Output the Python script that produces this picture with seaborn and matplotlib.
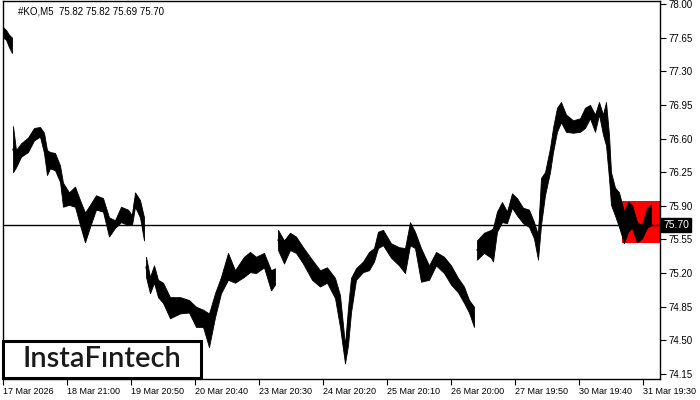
import matplotlib
matplotlib.use("Agg")
import matplotlib.pyplot as plt
import matplotlib.patches as mpatches
import numpy as np
import pandas as pd
import seaborn as sns

# 5-minute bars of #KO, sampled along the chart (bar index, high, low, session)
bars = [0, 3, 6, 9,
        10, 13, 18, 25, 31, 37, 41, 44, 47, 52, 57, 60, 66, 72, 77, 82, 87, 93,
        100, 106, 112, 118, 125, 129, 132, 137, 141,
        143, 147, 151, 155, 160, 167, 177, 186, 193, 200, 206, 212, 218, 225,
        232, 241, 247, 253, 261, 268, 272,
        275, 281, 287, 293, 300, 309, 317, 324, 332, 337, 342, 345, 348, 353,
        360, 366, 371, 375, 380, 388, 396, 402, 407, 412, 418, 426, 433, 441,
        448, 455, 461, 466, 471,
        474, 481, 488, 490, 494, 499, 504, 509, 514, 520, 526, 531, 535, 538,
        542, 547, 550, 554, 558, 563, 570, 577, 582, 587, 592, 596, 600, 603,
        606, 608, 612, 616, 621, 625, 629, 634, 639, 644, 648]
high = [77.76, 77.73, 77.68, 77.65,
        76.73, 76.48, 76.55, 76.61, 76.71, 76.72, 76.66, 76.48, 76.46, 76.45,
        76.32, 76.14, 76.04, 76.10, 75.96, 75.83, 75.91, 76.01, 75.98, 75.78,
        75.75, 75.89, 75.86, 75.80, 76.04, 75.96, 75.78,
        75.37, 75.16, 75.28, 75.13, 75.10, 74.95, 74.95, 74.92, 74.85, 74.82,
        74.78, 74.99, 75.16, 75.41, 75.23, 75.37, 75.42, 75.37, 75.41, 75.23,
        75.25,
        75.65, 75.54, 75.62, 75.58, 75.47, 75.34, 75.23, 75.26, 75.15, 74.97,
        74.45, 74.84, 75.15, 75.25, 75.32, 75.42, 75.46, 75.63, 75.65, 75.51,
        75.47, 75.46, 75.73, 75.63, 75.46, 75.28, 75.42, 75.37, 75.28, 75.15,
        75.06, 74.92, 74.85,
        75.54, 75.62, 75.65, 75.67, 75.84, 75.94, 75.84, 76.03, 75.98, 75.88,
        75.86, 75.73, 75.60, 76.19, 76.25, 76.50, 76.71, 76.92, 76.98, 76.85,
        76.79, 76.81, 76.92, 76.95, 76.85, 76.98, 76.85, 76.98, 76.64, 76.25,
        76.09, 76.04, 75.84, 75.94, 75.91, 75.73, 75.70, 75.88, 75.91]
low = [77.65, 77.63, 77.55, 77.49,
       76.25, 76.30, 76.41, 76.46, 76.58, 76.62, 76.45, 76.22, 76.29, 76.27,
       76.15, 75.89, 75.91, 75.89, 75.70, 75.52, 75.68, 75.86, 75.84, 75.58,
       75.67, 75.73, 75.70, 75.70, 75.89, 75.78, 75.54,
       75.16, 74.99, 75.10, 74.95, 74.89, 74.73, 74.78, 74.79, 74.64, 74.64,
       74.43, 74.74, 74.99, 75.13, 75.10, 75.16, 75.21, 75.20, 75.26, 75.02,
       75.08,
       75.44, 75.30, 75.44, 75.41, 75.30, 75.13, 75.06, 75.10, 74.94, 74.64,
       74.26, 74.45, 74.79, 75.13, 75.21, 75.23, 75.32, 75.46, 75.49, 75.36,
       75.28, 75.20, 75.49, 75.46, 75.11, 75.13, 75.28, 75.20, 75.08, 75.00,
       74.89, 74.79, 74.64,
       75.34, 75.41, 75.36, 75.32, 75.63, 75.73, 75.72, 75.88, 75.80, 75.72,
       75.68, 75.56, 75.34, 75.70, 76.01, 76.25, 76.46, 76.67, 76.77, 76.67,
       76.66, 76.67, 76.71, 76.81, 76.67, 76.85, 76.64, 76.53, 76.19, 75.91,
       75.80, 75.68, 75.51, 75.63, 75.67, 75.52, 75.56, 75.67, 75.70]
session = ([1] * 4 + [2] * 27 + [3] * 21 + [4] * 33 + [5] * 39)

x_labels = ["17 Mar 2026", "18 Mar 21:00", "19 Mar 20:50", "20 Mar 20:40",
            "23 Mar 20:30", "24 Mar 20:20", "25 Mar 20:10", "26 Mar 20:00",
            "27 Mar 19:50", "30 Mar 19:40", "31 Mar 19:30"]
y_ticks = [78.00, 77.65, 77.30, 76.95, 76.60, 76.25, 75.90, 75.55, 75.20,
           74.85, 74.50, 74.15]
last_price = 75.70
pattern_bars = (619, 657)
pattern_prices = (75.51, 75.95)

df = pd.DataFrame({"bar": bars * 2, "price": high + low,
                   "session": [f"s{s}" for s in session] * 2})

sns.set_theme(style="white")
plt.rcParams["font.family"] = ["Liberation Sans", "DejaVu Sans"]

fig = plt.figure(figsize=(7, 4), dpi=100)
ax = fig.add_axes([3 / 700, 21 / 400, 657 / 700, 378 / 400])

ax.add_patch(mpatches.Rectangle((pattern_bars[0], pattern_prices[0]),
                                pattern_bars[1] - pattern_bars[0],
                                pattern_prices[1] - pattern_prices[0],
                                facecolor="#ff0000", edgecolor="none", zorder=0))
ax.axhline(last_price, color="black", lw=1, zorder=1)

pal = {s: "black" for s in df["session"].unique()}
sns.lineplot(data=df, x="bar", y="price", hue="session", palette=pal,
             estimator="mean", errorbar=("pi", 100), legend=False, lw=1,
             err_kws={"alpha": 1, "edgecolor": "black", "linewidth": 0.6},
             ax=ax, zorder=2)

ax.set_xlim(0, 657)
ax.set_ylim(74.098, 78.031)
ax.set_xticks(np.arange(len(x_labels)) * 64)
ax.set_xticklabels(x_labels, ha="left", fontsize=6.5)
ax.set_yticks(y_ticks)
ax.set_yticklabels([f"{v:.2f}" for v in y_ticks], fontsize=7)
ax.yaxis.tick_right()
ax.tick_params(axis="y", direction="out", length=4, width=0.8, pad=2,
               colors="black", right=True, left=False)
ax.tick_params(axis="x", direction="out", length=4, width=0.8, pad=2,
               colors="black", bottom=True)
ax.set_xlabel("")
ax.set_ylabel("")
for sp in ax.spines.values():
    sp.set_color("black")
    sp.set_linewidth(1)

ax.annotate(f"{last_price:.2f}", xy=(1.0, last_price),
            xycoords=("axes fraction", "data"), xytext=(2.5, 0),
            textcoords="offset points", va="center", ha="left", fontsize=7.5,
            color="white",
            bbox=dict(boxstyle="square,pad=0.2", fc="black", ec="black"),
            annotation_clip=False)

fig.text(18 / 700, 1 - 11 / 400, "#KO,M5  75.82 75.82 75.69 75.70",
         fontsize=7, va="center", ha="left", color="black")

fig.patches.append(mpatches.Rectangle((3 / 700, 1 - 378 / 400), 198 / 700,
                                      37 / 400, transform=fig.transFigure,
                                      facecolor="white", edgecolor="black",
                                      lw=2.2, zorder=5))
fig.text(102 / 700, 1 - 359 / 400, "InstaFıntech", fontsize=21,
         family=["Lato", "DejaVu Sans"], weight="semibold", color="#1a1a1a",
         ha="center", va="center", zorder=6)

fig.savefig("out.png", dpi=100)
